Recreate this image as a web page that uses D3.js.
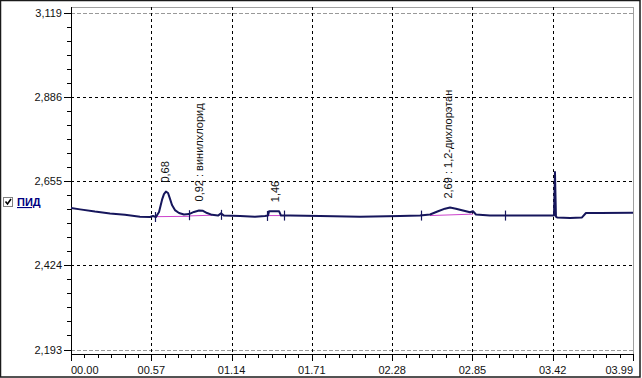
<!DOCTYPE html>
<html>
<head>
<meta charset="utf-8">
<script src="https://cdn.jsdelivr.net/npm/d3@7"></script>
<style>
  body { margin: 0; background: #fff; }
  svg { display: block; font-family: "Liberation Sans", Arial, sans-serif; }
</style>
</head>
<body>
<svg class="chromatogram" width="642" height="378"></svg>
<script>
// chromatogram, time in min, detector signal
const timeMin = [0.000, 0.064, 0.170, 0.277, 0.383, 0.490, 0.561, 0.582, 0.603, 0.625,
    0.646, 0.660, 0.674, 0.689, 0.703, 0.717, 0.738, 0.767, 0.802, 0.838,
    0.873, 0.909, 0.937, 0.966, 1.001, 1.044, 1.065, 1.086, 1.200, 1.306,
    1.377, 1.399, 1.406, 1.477, 1.491, 1.555, 1.768, 2.052, 2.336, 2.478,
    2.549, 2.606, 2.655, 2.691, 2.733, 2.783, 2.833, 2.854, 2.875, 2.974,
    3.188, 3.401, 3.429, 3.436, 3.443, 3.451, 3.543, 3.628, 3.656, 3.756, 3.990];
const signal = [2.582, 2.578, 2.572, 2.567, 2.563, 2.558, 2.557, 2.560, 2.557, 2.571,
    2.604, 2.620, 2.627, 2.623, 2.607, 2.590, 2.576, 2.568, 2.564, 2.565,
    2.571, 2.575, 2.574, 2.568, 2.563, 2.561, 2.567, 2.561, 2.560, 2.558,
    2.560, 2.561, 2.573, 2.573, 2.561, 2.561, 2.560, 2.558, 2.560, 2.561,
    2.564, 2.573, 2.580, 2.583, 2.580, 2.575, 2.570, 2.573, 2.564, 2.561,
    2.561, 2.561, 2.561, 2.681, 2.558, 2.556, 2.554, 2.556, 2.568, 2.568, 2.569];

const yTickValues = [2.193, 2.424, 2.655, 2.886, 3.119];
const yTickLabels = ["2,193", "2,424", "2,655", "2,886", "3,119"];
const xTickValues = [0, 0.57, 1.14, 1.71, 2.28, 2.85, 3.42, 3.99];
const xTickLabels = ["00.00", "00.57", "01.14", "01.71", "02.28", "02.85", "03.42", "03.99"];

const peakTimes = [0.68, 0.92, 1.46, 2.69];
const peakTops = [2.627, 2.575, 2.573, 2.583];
const peakLabels = ["0,68", "0,92 : винилхлорид", "1,46", "2,69 : 1,2-дихлорэтан"];

const markerTimes = [0.593, 0.838, 1.065, 1.392, 1.513, 2.483, 3.078];
const markerValues = [2.557, 2.562, 2.563, 2.560, 2.561, 2.561, 2.561];

const baseStartT = [0.603, 0.838, 1.399, 2.549];
const baseStartV = [2.558, 2.560, 2.561, 2.561];
const baseEndT = [0.838, 1.001, 1.491, 2.854];
const baseEndV = [2.559, 2.562, 2.561, 2.565];

const svg = d3.select(".chromatogram");
const LINE = "#16165c";
const BASE = "#cc44cc";
const L = 71, R = 633, T = 7, B = 354;

const x = d3.scaleLinear().domain([0, 3.99]).range([L, R]);
const y = d3.scaleLinear().domain([2.193, 3.119]).range([349.5, 12.5]);

// outer border
svg.append("rect")
    .attr("x", 0.5).attr("y", 0.5).attr("width", 639.5).attr("height", 376.5)
    .attr("fill", "#fff").attr("stroke", "#1a1a1a").attr("stroke-width", 1.5);

// plot frame
svg.append("rect")
    .attr("x", L + 0.5).attr("y", T + 0.5).attr("width", R - L).attr("height", B - T)
    .attr("fill", "none").attr("stroke", "#a0a0a0");

// grid
svg.append("g").selectAll("line")
    .data(yTickValues)
    .enter().append("line")
    .attr("x1", L).attr("x2", R)
    .attr("y1", d => Math.round(y(d)) + 0.5)
    .attr("y2", d => Math.round(y(d)) + 0.5)
    .attr("stroke", (d, i) => (i == 0 || i == yTickValues.length - 1) ? "#999" : "#000")
    .attr("stroke-dasharray", (d, i) => (i == 0 || i == yTickValues.length - 1) ? "4,2" : "3,3");

svg.append("g").selectAll("line")
    .data(xTickValues.slice(1, -1))
    .enter().append("line")
    .attr("x1", d => Math.round(x(d)) + 0.5)
    .attr("x2", d => Math.round(x(d)) + 0.5)
    .attr("y1", T).attr("y2", B)
    .attr("stroke", "#000")
    .attr("stroke-dasharray", "3,3");

// y axis
const yMinor = d3.range(0, 25).map(i => 2.193 + i * (3.119 - 2.193) / 24);
const yAxis = svg.append("g");
yAxis.append("line")
    .attr("x1", L + 0.5).attr("x2", L + 0.5).attr("y1", T).attr("y2", B)
    .attr("stroke", "#000");
yAxis.selectAll(".minor")
    .data(yMinor)
    .enter().append("line")
    .attr("x1", L - 4).attr("x2", L)
    .attr("y1", d => Math.round(y(d)) + 0.5)
    .attr("y2", d => Math.round(y(d)) + 0.5)
    .attr("stroke", "#000");
yAxis.selectAll(".major")
    .data(yTickValues)
    .enter().append("line")
    .attr("x1", L - 7).attr("x2", L)
    .attr("y1", d => Math.round(y(d)) + 0.5)
    .attr("y2", d => Math.round(y(d)) + 0.5)
    .attr("stroke", "#000");
yAxis.selectAll("text")
    .data(yTickValues)
    .enter().append("text")
    .attr("x", 62)
    .attr("y", d => y(d) + 4)
    .attr("text-anchor", "end")
    .style("font-size", "11px")
    .style("fill", "#111")
    .text((d, i) => yTickLabels[i]);

// x axis
const xMinor = d3.range(0, 43).map(i => i * 3.99 / 42);
const xAxis = svg.append("g");
xAxis.append("line")
    .attr("x1", L).attr("x2", R + 1).attr("y1", B + 0.5).attr("y2", B + 0.5)
    .attr("stroke", "#000");
xAxis.selectAll(".minor")
    .data(xMinor)
    .enter().append("line")
    .attr("x1", d => Math.round(x(d)) + 0.5)
    .attr("x2", d => Math.round(x(d)) + 0.5)
    .attr("y1", B).attr("y2", B + 4)
    .attr("stroke", "#000");
xAxis.selectAll(".major")
    .data(xTickValues)
    .enter().append("line")
    .attr("x1", d => Math.round(x(d)) + 0.5)
    .attr("x2", d => Math.round(x(d)) + 0.5)
    .attr("y1", B).attr("y2", B + 7)
    .attr("stroke", "#000");
xAxis.selectAll("text")
    .data(xTickValues)
    .enter().append("text")
    .attr("x", d => x(d))
    .attr("y", 374)
    .attr("text-anchor", (d, i) => i == 0 ? "start" : (i == xTickValues.length - 1 ? "end" : "middle"))
    .style("font-size", "11px")
    .style("fill", "#111")
    .text((d, i) => xTickLabels[i]);

// peak baselines
svg.append("g").selectAll("line")
    .data(baseStartT)
    .enter().append("line")
    .attr("x1", d => x(d))
    .attr("y1", (d, i) => y(baseStartV[i]))
    .attr("x2", (d, i) => x(baseEndT[i]))
    .attr("y2", (d, i) => y(baseEndV[i]))
    .attr("stroke", BASE)
    .attr("stroke-width", 1);

// signal
const pts = timeMin.map((t, i) => [t, signal[i]]);
svg.append("path")
    .datum(pts)
    .attr("d", d3.line().x(d => x(d[0])).y(d => y(d[1])))
    .attr("fill", "none")
    .attr("stroke", LINE)
    .attr("stroke-width", 2)
    .attr("stroke-linejoin", "round");

// peak start / end markers
svg.append("g").selectAll("line")
    .data(markerTimes)
    .enter().append("line")
    .attr("x1", d => Math.round(x(d)) + 0.5)
    .attr("x2", d => Math.round(x(d)) + 0.5)
    .attr("y1", (d, i) => y(markerValues[i]) - 5)
    .attr("y2", (d, i) => y(markerValues[i]) + 5)
    .attr("stroke", LINE)
    .attr("stroke-width", 1.2);

// peak labels
svg.append("g").selectAll("text")
    .data(peakTimes)
    .enter().append("text")
    .attr("transform", (d, i) => `translate(${x(d) + 2}, ${y(peakTops[i]) - 9}) rotate(-90)`)
    .style("font-size", "11px")
    .style("fill", "#111")
    .text((d, i) => peakLabels[i]);

// legend
const lg = svg.append("g");
lg.append("rect")
    .attr("x", 3.5).attr("y", 197.5).attr("width", 9).attr("height", 9)
    .attr("fill", "#fff").attr("stroke", "#808080");
lg.append("path")
    .attr("d", "M5.5,201.5 L7.5,204 L11,199")
    .attr("fill", "none").attr("stroke", "#000").attr("stroke-width", 1.6);
lg.append("text")
    .attr("x", 17).attr("y", 206)
    .style("font-size", "11px")
    .style("font-weight", "bold")
    .style("fill", "#000080")
    .style("text-decoration", "underline")
    .text("ПИД");
</script>
</body>
</html>
